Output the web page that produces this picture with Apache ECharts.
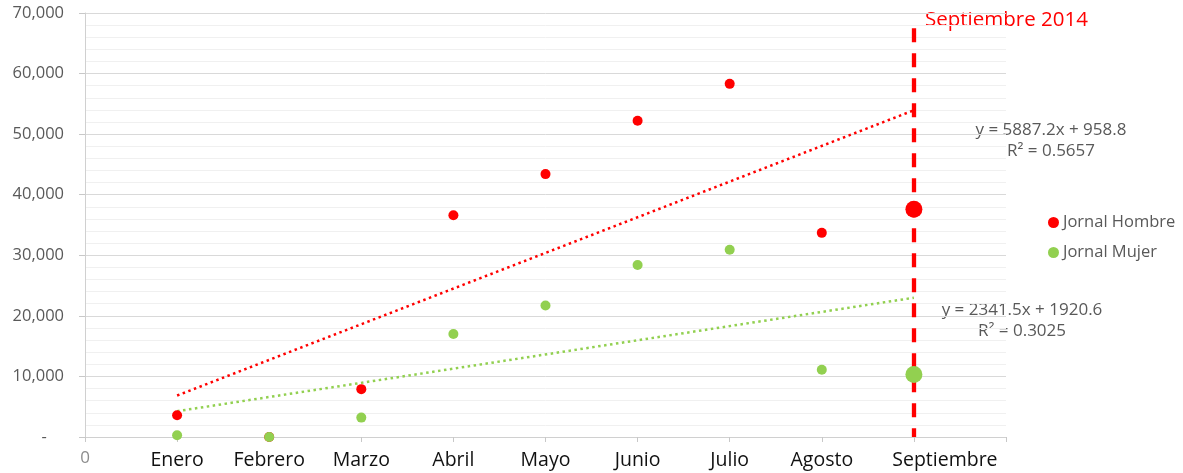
<!DOCTYPE html>
<html>
<head>
<meta charset="utf-8">
<script src="https://cdn.jsdelivr.net/npm/echarts@6/dist/echarts.min.js"></script>
<style>
  html, body { margin: 0; padding: 0; background: #fff; }
  #chart { width: 1183px; height: 473px; }
</style>
</head>
<body>
<div id="chart"></div>
<script>
// Month positions on the x axis (1..9) and their names
const months = ['Enero', 'Febrero', 'Marzo', 'Abril', 'Mayo', 'Junio', 'Julio', 'Agosto', 'Septiembre'];
const monthIndex = [1, 2, 3, 4, 5, 6, 7, 8, 9];

// Daily wages per month
const jornalHombre = [3600, 0, 7900, 36600, 43400, 52200, 58300, 33700, 37600];
const jornalMujer = [300, 0, 3200, 17000, 21700, 28400, 30900, 11100, 10300];

// Linear trend coefficients (slope, intercept, R²)
const trendHombre = { slope: 5887.2, intercept: 958.8, r2: 0.5657 };
const trendMujer = { slope: 2341.5, intercept: 1920.6, r2: 0.3025 };

const highlightMonth = 9;        // the highlighted month (Septiembre)
const highlightTop = 67500;      // top of the vertical marker line
const highlightLabel = 'Septiembre 2014';

const RED = '#ff0000';
const GREEN = '#92d050';
const GREY = '#595959';
const FONT = '"Open Sans", Lato, sans-serif';

function points(values) {
  return values.map((v, i) => {
    const x = monthIndex[i];
    if (x === highlightMonth) return { value: [x, v], symbolSize: 17 };
    return { value: [x, v] };
  });
}

function trendLine(t) {
  const x0 = monthIndex[0], x1 = monthIndex[monthIndex.length - 1];
  return [[x0, t.slope * x0 + t.intercept], [x1, t.slope * x1 + t.intercept]];
}

function eqText(t) {
  const sign = t.intercept >= 0 ? ' + ' : ' - ';
  return 'y = ' + t.slope.toFixed(1) + 'x' + sign + Math.abs(t.intercept).toFixed(1) +
    '\nR² = ' + t.r2.toFixed(4);
}

const chart = echarts.init(document.getElementById('chart'), null, { renderer: 'canvas' });

chart.setOption({
  animation: false,
  backgroundColor: '#ffffff',
  textStyle: { fontFamily: FONT },
  grid: { left: 85, right: 177, top: 13, bottom: 36, containLabel: false },
  xAxis: {
    type: 'value',
    min: 0, max: 10, interval: 1,
    axisLine: { show: true, lineStyle: { color: '#d0d0d0', width: 1 } },
    axisTick: { show: true, length: 5, lineStyle: { color: '#c8c8c8' } },
    splitLine: { show: false },
    axisLabel: {
      margin: 13,
      formatter: function (v) {
        if (v === 0) return '{z|0}';
        const i = monthIndex.indexOf(v);
        if (i < 0) return '';
        // the last month's label sits a little to the right of its tick
        return (v === highlightMonth ? '{s|' : '{m|') + months[i] + '}';
      },
      rich: {
        z: { color: '#8c8c8c', fontSize: 17, fontFamily: FONT },
        m: { color: '#111111', fontSize: 19.5, fontFamily: FONT },
        s: { color: '#111111', fontSize: 19.5, fontFamily: FONT, padding: [0, 0, 0, 62] }
      }
    }
  },
  yAxis: {
    type: 'value',
    min: 0, max: 70000, interval: 10000,
    axisLine: { show: true, lineStyle: { color: '#d0d0d0' } },
    axisTick: { show: true, inside: false, length: 6, lineStyle: { color: '#c8c8c8' } },
    minorTick: { show: false, splitNumber: 5 },
    splitLine: { show: true, lineStyle: { color: '#d9d9d9', width: 1 } },
    minorSplitLine: { show: true, lineStyle: { color: '#f0f0f0', width: 1 } },
    axisLabel: {
      margin: 21,
      color: GREY,
      fontSize: 16.5,
      fontFamily: FONT,
      formatter: function (v) {
        return v === 0 ? '-    ' : v.toLocaleString('en-US');
      }
    }
  },
  legend: {
    orient: 'vertical',
    left: 1043,
    top: 209,
    itemGap: 13,
    itemWidth: 11,
    itemHeight: 11,
    icon: 'circle',
    data: ['Jornal Hombre', 'Jornal Mujer'],
    textStyle: { color: GREY, fontSize: 16.5, fontFamily: FONT, padding: [0, 0, 0, -1] }
  },
  graphic: [
    {
      type: 'text', x: 925, y: 10,
      style: { text: highlightLabel, fill: RED, font: '20.5px ' + FONT }
    },
    {
      type: 'text', x: 1051, y: 120,
      style: { text: eqText(trendHombre), fill: GREY, font: '17px ' + FONT, align: 'center', verticalAlign: 'top', lineHeight: 21 }
    },
    {
      type: 'text', x: 1022, y: 300,
      style: { text: eqText(trendMujer), fill: GREY, font: '17px ' + FONT, align: 'center', verticalAlign: 'top', lineHeight: 21 }
    }
  ],
  series: [
    {
      name: 'Trend Hombre',
      type: 'line',
      data: trendLine(trendHombre),
      showSymbol: false,
      silent: true,
      lineStyle: { color: RED, width: 2.5, type: [2.5, 3.5] },
      z: 2
    },
    {
      name: 'Trend Mujer',
      type: 'line',
      data: trendLine(trendMujer),
      showSymbol: false,
      silent: true,
      lineStyle: { color: GREEN, width: 2.5, type: [2.5, 3.5] },
      z: 2
    },
    {
      name: 'Jornal Hombre',
      type: 'scatter',
      data: points(jornalHombre),
      symbolSize: 10,
      itemStyle: { color: RED, opacity: 1 },
      z: 4,
      markLine: {
        silent: true,
        symbol: 'none',
        label: { show: false },
        lineStyle: { color: RED, width: 4.3, type: [14, 11] },
        data: [[{ coord: [highlightMonth, highlightTop] }, { coord: [highlightMonth, 0] }]],
        z: 3
      }
    },
    {
      name: 'Jornal Mujer',
      type: 'scatter',
      data: points(jornalMujer),
      symbolSize: 10,
      itemStyle: { color: GREEN, opacity: 1 },
      z: 5
    }
  ]
});
</script>
</body>
</html>
